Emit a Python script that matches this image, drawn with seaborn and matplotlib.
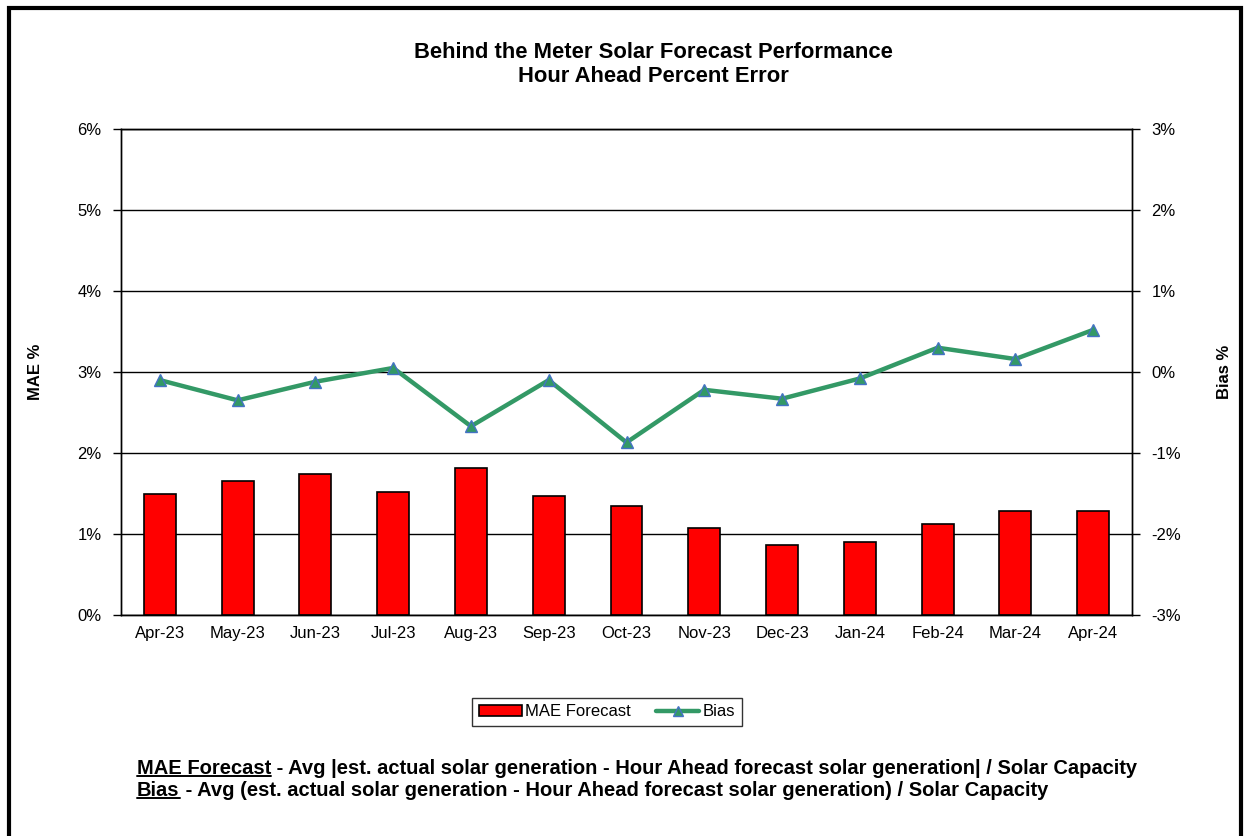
import numpy as np
import pandas as pd
import matplotlib
matplotlib.use('Agg')
import matplotlib.pyplot as plt
import seaborn as sns
from matplotlib.patches import Rectangle, Patch
from matplotlib.lines import Line2D
from matplotlib.ticker import FuncFormatter, MultipleLocator

# data
months = ['Apr-23', 'May-23', 'Jun-23', 'Jul-23', 'Aug-23', 'Sep-23', 'Oct-23',
          'Nov-23', 'Dec-23', 'Jan-24', 'Feb-24', 'Mar-24', 'Apr-24']
mae = [1.50, 1.65, 1.74, 1.52, 1.82, 1.47, 1.35, 1.08, 0.86, 0.90, 1.12, 1.28, 1.28]
bias = [-0.10, -0.35, -0.12, 0.05, -0.67, -0.10, -0.87, -0.22, -0.33, -0.08, 0.30, 0.16, 0.52]

df = pd.DataFrame({'month': months, 'mae': mae, 'bias': bias})

sns.set_theme(style='white')
plt.rcParams['font.family'] = ['Liberation Sans', 'DejaVu Sans']
plt.rcParams.update({'text.color': 'black', 'axes.labelcolor': 'black',
                     'xtick.color': 'black', 'ytick.color': 'black'})

fig = plt.figure(figsize=(12.44, 8.36), dpi=100)
ax = fig.add_axes([121/1244, 1 - 615/836, (1132-121)/1244, (615-129)/836])

# bars - MAE
sns.barplot(data=df, x='month', y='mae', ax=ax, color='#FF0000', width=0.41,
            edgecolor='black', linewidth=1.2, saturation=1, zorder=3)
ax.set_ylim(0, 6)
ax.set_xlim(-0.5, len(months) - 0.5)
ax.yaxis.set_major_locator(MultipleLocator(1))
ax.yaxis.set_major_formatter(FuncFormatter(lambda v, p: f'{v:.0f}%'))
ax.grid(axis='y', color='black', linewidth=1, zorder=0)
ax.set_axisbelow(True)
ax.set_xlabel('')
ax.set_ylabel('MAE %', fontsize=12, fontweight='bold', labelpad=25)
ax.set_xticks(np.arange(len(months) + 1) - 0.5, minor=False)
ax.set_xticklabels([])
ax.set_xticks(np.arange(len(months)), minor=True)
ax.set_xticklabels(months, minor=True)
ax.tick_params(axis='x', which='major', direction='out', length=6, color='black', width=1)
ax.tick_params(axis='x', which='minor', length=0, labelsize=12, pad=8)
ax.tick_params(axis='y', direction='out', length=6, color='black', width=1, labelsize=12, pad=8)
for s in ['left', 'bottom', 'right', 'top']:
    ax.spines[s].set_color('black')
    ax.spines[s].set_linewidth(1)

# line - bias on right axis
ax2 = ax.twinx()
sns.lineplot(x=np.arange(len(months)), y=df['bias'], ax=ax2, color='#339966',
             linewidth=3.2, marker='^', markersize=9, markerfacecolor='#339966',
             markeredgecolor='#4472C4', markeredgewidth=1, zorder=4)
ax2.set_ylim(-3, 3)
ax2.yaxis.set_major_locator(MultipleLocator(1))
ax2.yaxis.set_major_formatter(FuncFormatter(lambda v, p: f'{v:.0f}%'))
ax2.set_ylabel('Bias %', fontsize=12, fontweight='bold', rotation=90, labelpad=26)
ax2.tick_params(axis='y', direction='out', length=6, color='black', width=1, labelsize=12, pad=8)
ax2.grid(False)
for s in ['left', 'bottom', 'right', 'top']:
    ax2.spines[s].set_color('black')
    ax2.spines[s].set_linewidth(1)

# title
fig.text(653/1244, 1 - 52/836, 'Behind the Meter Solar Forecast Performance',
         ha='center', va='center', fontsize=15.8, fontweight='bold')
fig.text(653/1244, 1 - 76/836, 'Hour Ahead Percent Error',
         ha='center', va='center', fontsize=15.8, fontweight='bold')

# legend
handles = [Patch(facecolor='#FF0000', edgecolor='black', linewidth=1.2),
           Line2D([], [], color='#339966', linewidth=3.2, marker='^', markersize=7,
                  markerfacecolor='#339966', markeredgecolor='#4472C4')]
leg = fig.legend(handles, ['MAE Forecast', 'Bias'], loc='center',
                 bbox_to_anchor=(607/1244, 1 - 712/836), ncol=2, fontsize=12,
                 frameon=True, fancybox=False, edgecolor='black', handlelength=2.6,
                 handleheight=0.6, columnspacing=1.5, handletextpad=0.2, borderpad=0.4)
leg.get_frame().set_linewidth(1)

# footnotes with underlined lead words
fig.canvas.draw()
renderer = fig.canvas.get_renderer()
notes = [('MAE Forecast', ' - Avg |est. actual solar generation - Hour Ahead forecast solar generation| / Solar Capacity', 768),
         ('Bias', ' - Avg (est. actual solar generation - Hour Ahead forecast solar generation) / Solar Capacity', 790)]
for head, rest, ypix in notes:
    y = 1 - ypix/836
    t1 = fig.text(137/1244, y, head, ha='left', va='center', fontsize=14.5, fontweight='bold')
    bb = t1.get_window_extent(renderer)
    fig.text(bb.x1/1244, y, rest, ha='left', va='center', fontsize=14.5, fontweight='bold')
    fig.add_artist(Line2D([bb.x0/1244, bb.x1/1244], [(bb.y0 + 2)/836] * 2,
                          color='black', linewidth=1.4, transform=fig.transFigure))

# chart border
fig.add_artist(Rectangle((9/1244, -0.05), (1241-9)/1244, 1.05 - 8/836, fill=False,
                         edgecolor='black', linewidth=3, transform=fig.transFigure))

fig.savefig('out.png', dpi=100, facecolor='white')
